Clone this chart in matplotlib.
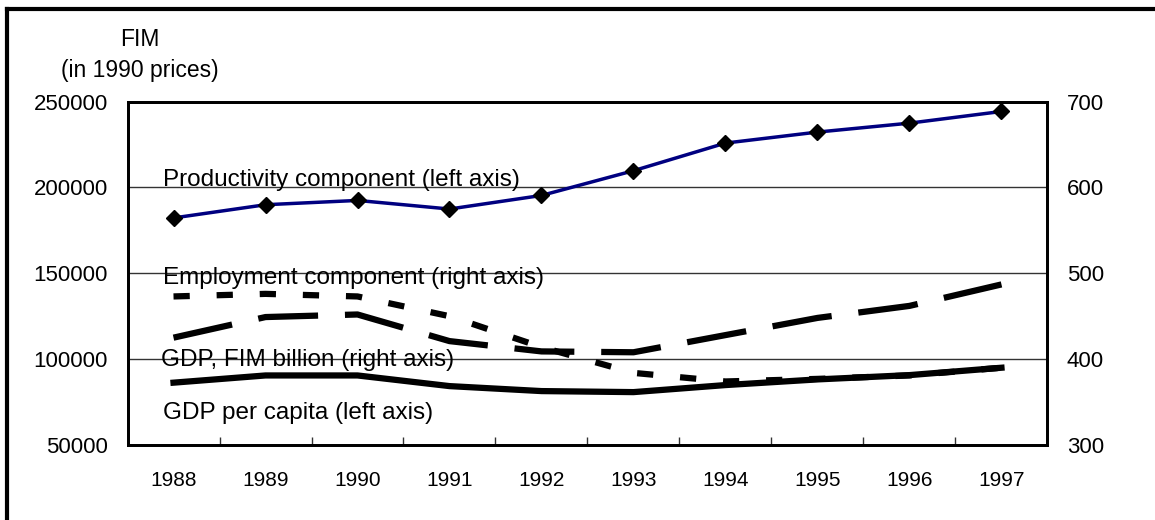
import matplotlib.pyplot as plt
from matplotlib.lines import Line2D

plt.rcParams['font.family'] = ['Liberation Sans', 'DejaVu Sans']

# data
years = ['1988', '1989', '1990', '1991', '1992', '1993', '1994', '1995', '1996', '1997']
productivity = [182200, 189900, 192400, 187400, 195300, 209700, 225800, 232200, 237400, 244200]  # left axis
gdp_per_capita = [86300, 90500, 90500, 84300, 81400, 80800, 84900, 88200, 90700, 95000]  # left axis
employment = [473, 476, 473, 450, 414, 384, 374, 377, 381, 390]  # right axis
gdp_billion = [425, 449, 452, 421, 409, 408, 428, 448, 462, 487]  # right axis

left_ticks = [50000, 100000, 150000, 200000, 250000]
right_ticks = [300, 400, 500, 600, 700]

fig = plt.figure(figsize=(11.55, 5.2), dpi=100)
ax = fig.add_axes([0.1104, 0.1442, 0.7965, 0.6606])
ax2 = ax.twinx()

x = list(range(len(years)))

# grid lines on left axis
for v in left_ticks[1:-1]:
    ax.axhline(v, color='#333333', lw=1.0, zorder=1)

ax.plot(x, productivity, color='#000080', lw=2.5, marker='D', markersize=8,
        markerfacecolor='black', markeredgecolor='black', zorder=5)
ax.plot(x, gdp_per_capita, color='black', lw=4.5, solid_joinstyle='round', zorder=4)
ax2.plot(x, employment, color='black', lw=4.5, dashes=(2.6, 4.3), zorder=4)
ax2.plot(x, gdp_billion, color='black', lw=4.5, dashes=(9.6, 4.3), zorder=4)

ax.set_xlim(-0.5, len(years) - 0.5)
ax.set_ylim(50000, 250000)
ax2.set_ylim(300, 700)

ax.set_yticks(left_ticks)
ax.set_yticklabels([str(v) for v in left_ticks])
ax2.set_yticks(right_ticks)
ax2.set_yticklabels([str(v) for v in right_ticks])

ax.set_xticks([i + 0.5 for i in range(len(years) - 1)])
ax.set_xticklabels([])
ax.set_xticks(x, minor=True)
ax.set_xticklabels(years, minor=True)
ax.tick_params(axis='x', which='major', direction='in', length=6, width=1, color='#333333')
ax.tick_params(axis='x', which='minor', length=0, pad=19, labelsize=15)
ax.tick_params(axis='y', length=0, pad=14, labelsize=16)
ax2.tick_params(axis='y', length=0, pad=14, labelsize=16)

for a in (ax, ax2):
    for s in a.spines.values():
        s.set_linewidth(2)
        s.set_color('black')

# series labels inside the plot
ax.text(-0.11, 200600, 'Productivity component (left axis)', fontsize=17.5, va='baseline', zorder=6)
ax2.text(-0.11, 487, 'Employment component (right axis)', fontsize=17.5, va='baseline', zorder=6)
ax2.text(-0.135, 392, 'GDP, FIM billion (right axis)', fontsize=17.5, va='baseline', zorder=6)
ax.text(-0.11, 65000, 'GDP per capita (left axis)', fontsize=17.5, va='baseline', zorder=6)

# axis caption above left axis
fig.text(140 / 1155, 1 - 40 / 520, 'FIM', fontsize=16.5, ha='center', va='center')
fig.text(140 / 1155, 1 - 71 / 520, '(in 1990 prices)', fontsize=16.5, ha='center', va='center')

# frame round the figure (only top and left visible)
fig.add_artist(Line2D([7 / 1155, 7 / 1155], [0, 1 - 9 / 520], color='black', lw=3, transform=fig.transFigure))
fig.add_artist(Line2D([7 / 1155, 1], [1 - 9 / 520, 1 - 9 / 520], color='black', lw=3, transform=fig.transFigure))

fig.savefig('out.png', dpi=100)
